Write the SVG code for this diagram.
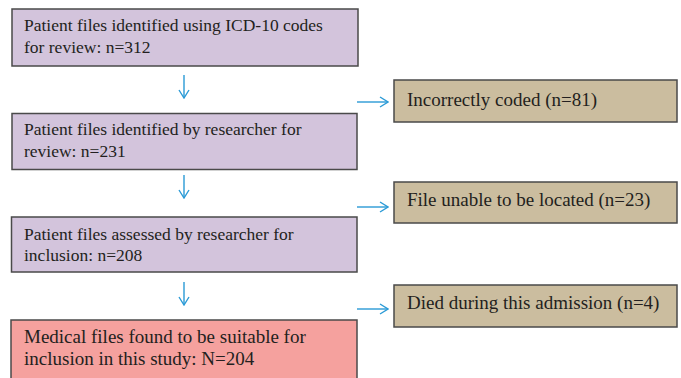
<svg xmlns="http://www.w3.org/2000/svg" width="681" height="378" viewBox="0 0 681 378">
  <style>
    .box { stroke: #4a4a4a; stroke-width: 1.5; }
    .main { fill: #d3c4dc; }
    .excl { fill: #cbbd9f; }
    .final { fill: #f5a19e; }
    .t { font-family: "Liberation Serif", "Times New Roman", serif; font-size: 17.5px; fill: #231f20; }
    .t2 { font-family: "Liberation Serif", "Times New Roman", serif; font-size: 19px; fill: #231f20; }
    .arrow { stroke: #2a9ad6; stroke-width: 1.4; fill: none; }
  </style>
  <defs>
    <marker id="head" viewBox="0 0 10 12" refX="9" refY="6" markerWidth="10" markerHeight="12" markerUnits="userSpaceOnUse" orient="auto">
      <path d="M1,1 L9,6 L1,11" fill="none" stroke="#2a9ad6" stroke-width="1.4"/>
    </marker>
  </defs>

  <g id="n1">
    <rect class="box main" x="12" y="9" width="346" height="57"/>
    <text class="t" x="24" y="31">Patient files identified using ICD-10 codes</text>
    <text class="t" x="24" y="53">for review: n=312</text>
  </g>
  <g id="n2">
    <rect class="box main" x="12" y="113.5" width="345" height="56"/>
    <text class="t" x="24" y="135">Patient files identified by researcher for</text>
    <text class="t" x="24" y="157">review: n=231</text>
  </g>
  <g id="n3">
    <rect class="box main" x="11.5" y="217" width="345.5" height="55"/>
    <text class="t" x="24" y="240">Patient files assessed by researcher for</text>
    <text class="t" x="24" y="261">inclusion: n=208</text>
  </g>
  <g id="n4">
    <rect class="box final" x="11" y="320" width="346" height="70"/>
    <text class="t2" x="24" y="343">Medical files found to be suitable for</text>
    <text class="t2" x="24" y="365">inclusion in this study: N=204</text>
  </g>
  <g id="x1">
    <rect class="box excl" x="394" y="80" width="283" height="42"/>
    <text class="t2" x="407" y="106">Incorrectly coded (n=81)</text>
  </g>
  <g id="x2">
    <rect class="box excl" x="394" y="182" width="283" height="41"/>
    <text class="t2" x="407" y="206">File unable to be located (n=23)</text>
  </g>
  <g id="x3">
    <rect class="box excl" x="394" y="285" width="283" height="42"/>
    <text class="t2" x="407" y="309">Died during this admission (n=4)</text>
  </g>

  <g id="connectors">
    <line class="arrow" x1="184" y1="75" x2="184" y2="98" marker-end="url(#head)"/>
    <line class="arrow" x1="184" y1="175" x2="184" y2="198" marker-end="url(#head)"/>
    <line class="arrow" x1="184" y1="282" x2="184" y2="305" marker-end="url(#head)"/>
    <line class="arrow" x1="357" y1="102" x2="388" y2="102" marker-end="url(#head)"/>
    <line class="arrow" x1="357" y1="207" x2="388" y2="207" marker-end="url(#head)"/>
    <line class="arrow" x1="357" y1="309" x2="388" y2="309" marker-end="url(#head)"/>
  </g>
</svg>
